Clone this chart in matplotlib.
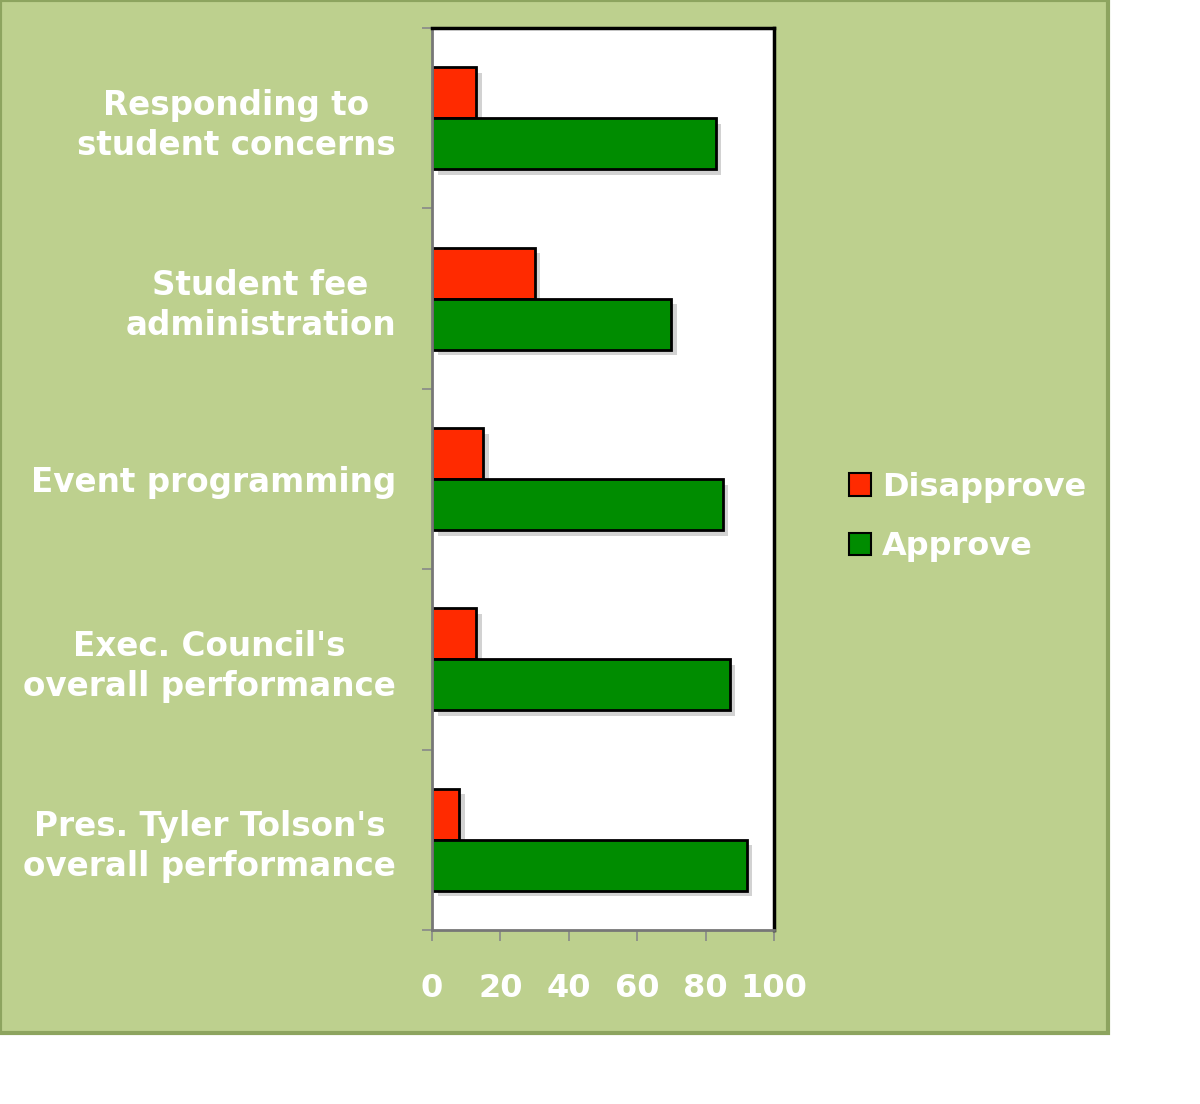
import matplotlib
matplotlib.use("Agg")
import matplotlib.pyplot as plt
import matplotlib.patheffects as pe
from matplotlib.patches import Rectangle, Patch
import numpy as np

categories = ["Responding to\nstudent concerns",
              "Student fee\nadministration",
              "Event programming",
              "Exec. Council's\noverall performance",
              "Pres. Tyler Tolson's\noverall performance"]
disapprove = [13, 30, 15, 13, 8]
approve = [83, 70, 85, 87, 92]
xticks = [0, 20, 40, 60, 80, 100]

W, H = 1200, 1104
fig = plt.figure(figsize=(W / 100, H / 100), dpi=100)
fig.patch.set_facecolor("white")

# green panel behind the chart
fig.patches.append(Rectangle((0, 1 - 1033 / H), 1108 / W, 1033 / H,
                             transform=fig.transFigure, facecolor="#bdd08e",
                             edgecolor="#8da45f", linewidth=3, zorder=-5))

ax = fig.add_axes([432 / W, 1 - 930 / H, 342 / W, 902 / H])
ax.set_zorder(2)
ax.set_facecolor("white")

pos = np.arange(len(categories))
h = 0.283
shadow = [pe.SimplePatchShadow(offset=(4, -4), shadow_rgbFace="gray", alpha=0.35), pe.Normal()]
b1 = ax.barh(pos - h / 2, disapprove, height=h, color="#ff2a00", edgecolor="black", linewidth=2)
b2 = ax.barh(pos + h / 2, approve, height=h, color="#008c00", edgecolor="black", linewidth=2)
for b in list(b1) + list(b2):
    b.set_path_effects(shadow)

ax.set_xlim(0, 100)
ax.set_ylim(len(categories) - 0.5, -0.5)

ax.set_xticks(xticks)
ax.set_xticklabels([str(t) for t in xticks])
ax.set_yticks(pos)
ax.set_yticklabels(categories, ha="right", multialignment="center", linespacing=1.27)
ax.set_yticks(np.arange(-0.5, len(categories)), minor=True)

for lab in ax.get_xticklabels():
    lab.set_color("white")
    lab.set_fontsize(23)
    lab.set_fontweight("bold")
for lab in ax.get_yticklabels():
    lab.set_color("white")
    lab.set_fontsize(23.5)
    lab.set_fontweight("bold")

ax.tick_params(axis="y", which="major", length=0, pad=26)
ax.tick_params(axis="y", which="minor", length=7, color="#888888", width=1.2)
ax.tick_params(axis="x", which="major", length=8, color="#888888", width=1.2, pad=23)

ax.spines["left"].set_color("#777777")
ax.spines["bottom"].set_color("#777777")
ax.spines["left"].set_linewidth(2)
ax.spines["bottom"].set_linewidth(2)
ax.spines["top"].set_linewidth(2.5)
ax.spines["right"].set_linewidth(2.5)

handles = [Patch(facecolor="#ff2a00", edgecolor="black", linewidth=1.5),
           Patch(facecolor="#008c00", edgecolor="black", linewidth=1.5)]
fig.legend(handles, ["Disapprove", "Approve"], loc="center left",
           bbox_to_anchor=(820 / W, 1 - 517 / H), frameon=False,
           labelcolor="white", prop=dict(size=23, weight="bold"),
           handlelength=0.7, handleheight=0.7, handletextpad=0.35, labelspacing=0.9)

fig.savefig("out.png", dpi=100, facecolor=fig.get_facecolor())
